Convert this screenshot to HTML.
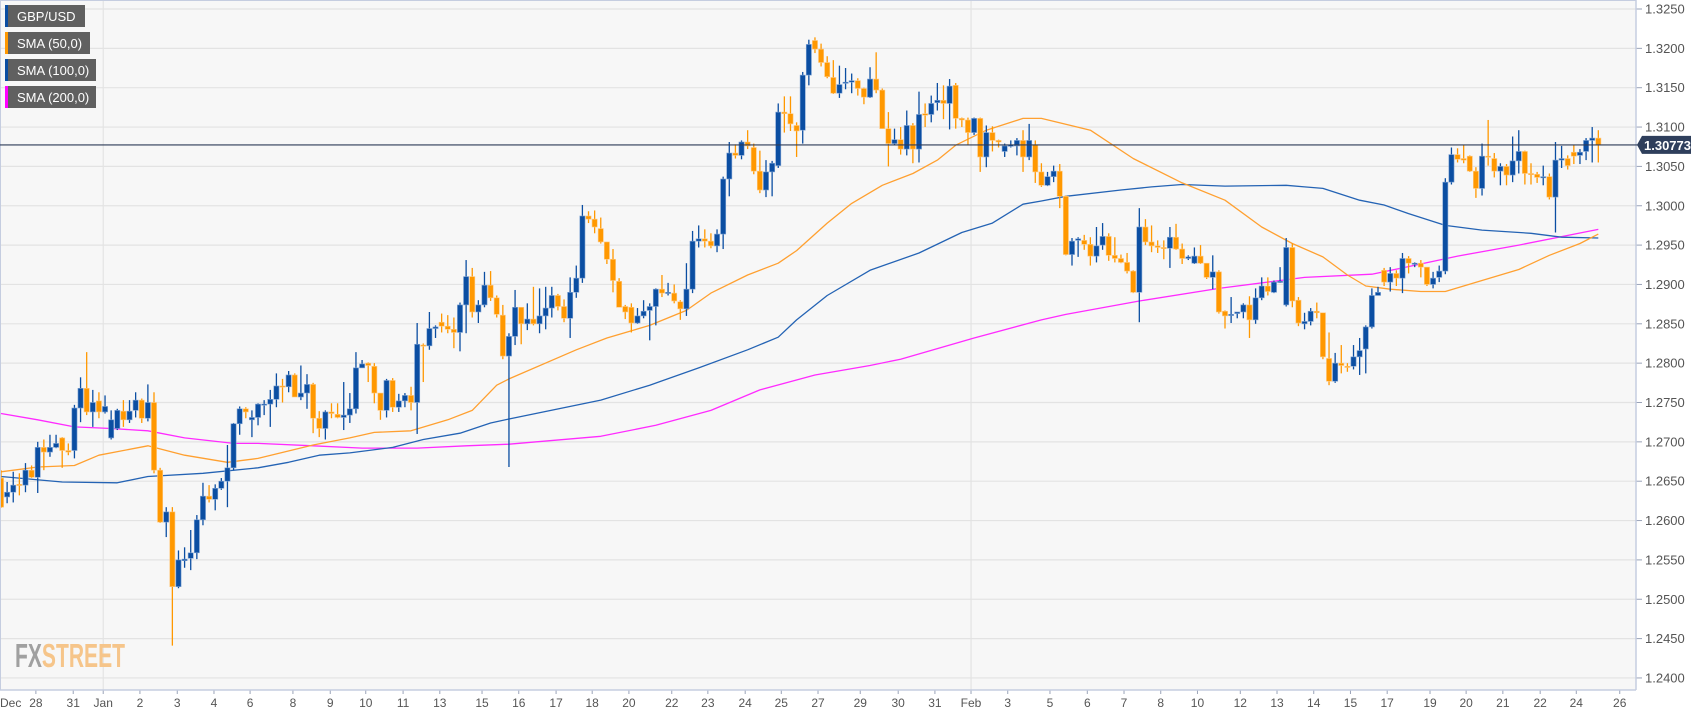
<!DOCTYPE html>
<html><head><meta charset="utf-8"><style>
html,body{margin:0;padding:0;background:#fff;}
svg{display:block;font-family:"Liberation Sans",Arial,sans-serif;}
</style></head><body>
<svg id="chart" width="1707" height="712" viewBox="0 0 1707 712" xmlns="http://www.w3.org/2000/svg">
  <rect x="0" y="0" width="1707" height="712" fill="#ffffff"/>
  <rect x="0" y="0" width="1636" height="690" fill="#f7f7f7"/>
  <g id="grid"></g>
  <g id="smas"></g>
  <g id="candles"></g>
  <g id="axes"></g>
  <g>
    <text x="15" y="667" font-size="33" font-weight="bold" fill="#a0a0a0" textLength="110" lengthAdjust="spacingAndGlyphs">FX<tspan fill="#f6c58a">STREET</tspan></text>
  </g>
  <g>
    <g>
      <rect x="5" y="5" width="80" height="22" fill="#606060"/><rect x="5" y="5" width="3" height="22" fill="#0b4ea2"/>
      <text x="17" y="21" font-size="13" fill="#fff">GBP/USD</text></g>
    <g>
      <rect x="5" y="32" width="85" height="22" fill="#606060"/><rect x="5" y="32" width="3" height="22" fill="#ff9800"/>
      <text x="17" y="48" font-size="13" fill="#fff">SMA (50,0)</text></g>
    <g>
      <rect x="5" y="59" width="91" height="22" fill="#606060"/><rect x="5" y="59" width="3" height="22" fill="#0b4ea2"/>
      <text x="17" y="75" font-size="13" fill="#fff">SMA (100,0)</text></g>
    <g>
      <rect x="5" y="86" width="91" height="22" fill="#606060"/><rect x="5" y="86" width="3" height="22" fill="#ff00ff"/>
      <text x="17" y="102" font-size="13" fill="#fff">SMA (200,0)</text></g>
  </g>
</svg>
<script>
const O=[1.2654,1.2630,1.2636,1.2646,1.2645,1.2664,1.2655,1.2693,1.2687,1.2693,
1.2705,1.2689,1.2689,1.2743,1.2768,1.2738,1.2752,1.2738,1.2705,1.2717,
1.2739,1.2728,1.2740,1.2753,1.2730,1.2750,1.2664,1.2598,1.2611,1.2516,
1.2549,1.2552,1.2559,1.2601,1.2631,1.2627,1.2641,1.2650,1.2667,1.2723,
1.2742,1.2728,1.2731,1.2747,1.2748,1.2754,1.2771,1.2770,1.2785,1.2757,
1.2762,1.2773,1.2730,1.2717,1.2738,1.2735,1.2731,1.2734,1.2742,1.2794,
1.2800,1.2796,1.2762,1.2740,1.2778,1.2744,1.2752,1.2759,1.2750,1.2823,
1.2822,1.2844,1.2852,1.2847,1.2843,1.2839,1.2874,1.2910,1.2865,1.2874,
1.2899,1.2883,1.2861,1.2809,1.2834,1.2871,1.2850,1.2856,1.2850,1.2860,
1.2870,1.2886,1.2872,1.2857,1.2890,1.2908,1.2987,1.2983,1.2971,1.2954,
1.2932,1.2904,1.2872,1.2871,1.2851,1.2860,1.2867,1.2872,1.2894,1.2889,
1.2889,1.2878,1.2869,1.2894,1.2955,1.2958,1.2955,1.2949,1.2964,1.3034,
1.3067,1.3064,1.3081,1.3074,1.3044,1.3020,1.3043,1.3051,1.3119,1.3117,
1.3102,1.3096,1.3166,1.3210,1.3199,1.3182,1.3163,1.3143,1.3156,1.3157,
1.3159,1.3149,1.3138,1.3161,1.3147,1.3098,1.3079,1.3084,1.3072,1.3102,
1.3072,1.3117,1.3116,1.3131,1.3134,1.3130,1.3153,1.3111,1.3109,1.3093,
1.3111,1.3062,1.3093,1.3083,1.3069,1.3076,1.3076,1.3083,1.3062,1.3077,
1.3043,1.3026,1.3037,1.3044,1.3012,1.2938,1.2956,1.2956,1.2951,1.2936,
1.2950,1.2961,1.2937,1.2933,1.2928,1.2917,1.2890,1.2973,1.2954,1.2949,
1.2947,1.2946,1.2960,1.2945,1.2933,1.2927,1.2936,1.2927,1.2909,1.2916,
1.2866,1.2861,1.2863,1.2865,1.2874,1.2855,1.2883,1.2898,1.2890,1.2903,
1.2874,1.2947,1.2880,1.2850,1.2853,1.2866,1.2864,1.2806,1.2777,1.2800,
1.2796,1.2796,1.2808,1.2818,1.2846,1.2886,1.2918,1.2903,1.2914,1.2908,
1.2933,1.2926,1.2927,1.2922,1.2900,1.2909,1.2917,1.3030,1.3065,1.3060,
1.3063,1.3044,1.3022,1.3063,1.3060,1.3044,1.3050,1.3039,1.3057,1.3069,
1.3041,1.3040,1.3036,1.3037,1.3011,1.3058,1.3060,1.3068,1.3064,1.3069,
1.3083,1.3086];
const H=[1.2664,1.2649,1.2662,1.2660,1.2673,1.2670,1.2700,1.2703,1.2709,1.2709,
1.2706,1.2698,1.2747,1.2782,1.2814,1.2766,1.2763,1.2759,1.2740,1.2742,
1.2753,1.2753,1.2763,1.2755,1.2773,1.2763,1.2667,1.2617,1.2617,1.2562,
1.2566,1.2588,1.2607,1.2648,1.2645,1.2646,1.2654,1.2696,1.2724,1.2745,
1.2744,1.2740,1.2749,1.2753,1.2766,1.2787,1.2780,1.2790,1.2787,1.2797,
1.2786,1.2775,1.2739,1.2740,1.2749,1.2749,1.2776,1.2762,1.2814,1.2804,
1.2801,1.2800,1.2762,1.2780,1.2781,1.2761,1.2762,1.2770,1.2851,1.2825,
1.2865,1.2848,1.2863,1.2861,1.2858,1.2877,1.2931,1.2921,1.2880,1.2916,
1.2917,1.2886,1.2874,1.2838,1.2893,1.2871,1.2876,1.2897,1.2895,1.2897,
1.2897,1.2888,1.2881,1.2909,1.2924,1.3001,1.2993,1.2994,1.2985,1.2954,
1.2945,1.2908,1.2874,1.2876,1.2870,1.2880,1.2876,1.2895,1.2912,1.2902,
1.2900,1.2880,1.2927,1.2968,1.2975,1.2970,1.2965,1.2970,1.3037,1.3081,
1.3078,1.3083,1.3096,1.3079,1.3070,1.3058,1.3057,1.3130,1.3139,1.3139,
1.3106,1.3170,1.3211,1.3214,1.3206,1.3190,1.3185,1.3178,1.3175,1.3168,
1.3162,1.3150,1.3176,1.3195,1.3149,1.3119,1.3098,1.3100,1.3121,1.3105,
1.3145,1.3130,1.3140,1.3156,1.3153,1.3161,1.3156,1.3112,1.3112,1.3112,
1.3112,1.3102,1.3101,1.3084,1.3079,1.3083,1.3086,1.3096,1.3104,1.3083,
1.3054,1.3043,1.3051,1.3053,1.3013,1.2959,1.2960,1.2963,1.2960,1.2973,
1.2978,1.2965,1.2960,1.2938,1.2940,1.2918,1.2997,1.2983,1.2975,1.2956,
1.2956,1.2973,1.2977,1.2952,1.2937,1.2947,1.2950,1.2927,1.2937,1.2918,
1.2867,1.2884,1.2865,1.2876,1.2885,1.2895,1.2909,1.2909,1.2905,1.2922,
1.2959,1.2952,1.2884,1.2864,1.2870,1.2877,1.2864,1.2839,1.2813,1.2823,
1.2800,1.2823,1.2832,1.2848,1.2895,1.2897,1.2921,1.2922,1.2918,1.2940,
1.2936,1.2928,1.2931,1.2922,1.2916,1.2924,1.3035,1.3074,1.3073,1.3077,
1.3064,1.3049,1.3079,1.3109,1.3067,1.3054,1.3053,1.3088,1.3096,1.3070,
1.3054,1.3043,1.3051,1.3041,1.3081,1.3076,1.3064,1.3077,1.3072,1.3086,
1.3100,1.3096];
const L=[1.2616,1.2622,1.2623,1.2632,1.2636,1.2654,1.2635,1.2664,1.2681,1.2692,
1.2667,1.2683,1.2679,1.2725,1.2734,1.2719,1.2730,1.2736,1.2703,1.2715,
1.2719,1.2724,1.2731,1.2724,1.2726,1.2660,1.2597,1.2579,1.2441,1.2514,
1.2540,1.2537,1.2551,1.2594,1.2623,1.2613,1.2639,1.2617,1.2664,1.2709,
1.2730,1.2706,1.2721,1.2734,1.2719,1.2744,1.2750,1.2763,1.2757,1.2753,
1.2742,1.2711,1.2706,1.2703,1.2730,1.2730,1.2715,1.2724,1.2736,1.2794,
1.2776,1.2749,1.2728,1.2731,1.2738,1.2738,1.2744,1.2740,1.2710,1.2776,
1.2817,1.2832,1.2839,1.2838,1.2819,1.2815,1.2838,1.2858,1.2851,1.2871,
1.2879,1.2858,1.2805,1.2668,1.2823,1.2824,1.2842,1.2848,1.2838,1.2843,
1.2858,1.2867,1.2852,1.2832,1.2883,1.2902,1.2978,1.2965,1.2952,1.2926,
1.2890,1.2871,1.2856,1.2839,1.2850,1.2857,1.2829,1.2848,1.2884,1.2886,
1.2876,1.2855,1.2860,1.2889,1.2947,1.2947,1.2946,1.2941,1.2945,1.3012,
1.3060,1.3059,1.3072,1.3040,1.3016,1.3011,1.3012,1.3048,1.3093,1.3095,
1.3062,1.3079,1.3153,1.3194,1.3177,1.3162,1.3142,1.3137,1.3148,1.3143,
1.3140,1.3129,1.3137,1.3143,1.3098,1.3050,1.3077,1.3065,1.3064,1.3054,
1.3055,1.3100,1.3106,1.3121,1.3110,1.3097,1.3098,1.3100,1.3077,1.3090,
1.3043,1.3049,1.3069,1.3074,1.3062,1.3074,1.3064,1.3043,1.3058,1.3029,
1.3024,1.3025,1.3030,1.2997,1.2937,1.2924,1.2935,1.2944,1.2924,1.2928,
1.2944,1.2930,1.2928,1.2927,1.2914,1.2889,1.2852,1.2950,1.2941,1.2940,
1.2932,1.2921,1.2944,1.2926,1.2931,1.2926,1.2926,1.2907,1.2894,1.2863,
1.2844,1.2851,1.2857,1.2857,1.2832,1.2850,1.2880,1.2886,1.2889,1.2902,
1.2872,1.2871,1.2847,1.2843,1.2848,1.2857,1.2805,1.2772,1.2775,1.2787,
1.2789,1.2792,1.2785,1.2787,1.2844,1.2886,1.2898,1.2891,1.2898,1.2889,
1.2914,1.2922,1.2909,1.2898,1.2895,1.2903,1.2913,1.3027,1.3055,1.3054,
1.3043,1.3010,1.3013,1.3051,1.3036,1.3026,1.3026,1.3030,1.3041,1.3027,
1.3027,1.3029,1.3026,1.3008,1.2966,1.3048,1.3046,1.3053,1.3053,1.3058,
1.3055,1.3055];
const C=[1.2617,1.2636,1.2645,1.2645,1.2664,1.2655,1.2693,1.2687,1.2693,1.2698,
1.2689,1.2687,1.2743,1.2768,1.2738,1.2750,1.2738,1.2745,1.2728,1.2740,
1.2728,1.2739,1.2753,1.2730,1.2750,1.2664,1.2598,1.2611,1.2516,1.2550,
1.2551,1.2559,1.2601,1.2631,1.2627,1.2641,1.2650,1.2667,1.2723,1.2742,
1.2738,1.2731,1.2748,1.2748,1.2754,1.2771,1.2770,1.2785,1.2757,1.2762,
1.2773,1.2730,1.2717,1.2738,1.2736,1.2731,1.2734,1.2742,1.2794,1.2799,
1.2797,1.2762,1.2740,1.2778,1.2744,1.2752,1.2759,1.2750,1.2824,1.2822,
1.2844,1.2846,1.2847,1.2843,1.2839,1.2874,1.2910,1.2865,1.2874,1.2899,
1.2883,1.2862,1.2809,1.2834,1.2871,1.2850,1.2856,1.2850,1.2860,1.2870,
1.2886,1.2872,1.2857,1.2890,1.2908,1.2987,1.2983,1.2973,1.2954,1.2932,
1.2905,1.2871,1.2865,1.2851,1.2860,1.2866,1.2872,1.2894,1.2889,1.2890,
1.2879,1.2869,1.2894,1.2955,1.2958,1.2955,1.2949,1.2964,1.3034,1.3067,
1.3064,1.3081,1.3076,1.3044,1.3020,1.3043,1.3054,1.3119,1.3117,1.3104,
1.3095,1.3166,1.3205,1.3199,1.3182,1.3164,1.3143,1.3154,1.3157,1.3159,
1.3149,1.3138,1.3161,1.3147,1.3098,1.3079,1.3084,1.3072,1.3102,1.3072,
1.3116,1.3115,1.3130,1.3134,1.3130,1.3152,1.3111,1.3109,1.3093,1.3111,
1.3062,1.3093,1.3083,1.3081,1.3076,1.3077,1.3083,1.3062,1.3083,1.3043,
1.3026,1.3037,1.3044,1.3012,1.2938,1.2955,1.2958,1.2951,1.2936,1.2949,
1.2961,1.2937,1.2933,1.2928,1.2917,1.2890,1.2973,1.2954,1.2949,1.2947,
1.2946,1.2960,1.2945,1.2933,1.2935,1.2936,1.2927,1.2909,1.2916,1.2865,
1.2860,1.2862,1.2865,1.2874,1.2855,1.2883,1.2898,1.2891,1.2903,1.2904,
1.2947,1.2879,1.2851,1.2853,1.2866,1.2864,1.2808,1.2777,1.2800,1.2797,
1.2795,1.2808,1.2816,1.2846,1.2886,1.2890,1.2903,1.2914,1.2908,1.2933,
1.2927,1.2927,1.2922,1.2900,1.2908,1.2917,1.3030,1.3065,1.3059,1.3058,
1.3044,1.3022,1.3063,1.3062,1.3044,1.3050,1.3039,1.3057,1.3069,1.3041,
1.3040,1.3036,1.3037,1.3011,1.3058,1.3060,1.3051,1.3063,1.3068,1.3083,
1.3086,1.30773];

const sma50Idx=[0,6,12,16,24,30,37,42,51,57,61,67,73,77,81,83,94,99,106,112,116,122,127,130,135,139,144,149,153,156,161,167,170,178,185,193,200,206,211,216,220,223,227,232,236,242,248,253,258,261];
const sma50Val=[1.2662,1.2668,1.2670,1.2683,1.2695,1.2683,1.2674,1.2679,1.2696,1.2705,1.2712,1.2714,1.2728,1.2740,1.2772,1.2780,1.2817,1.2832,1.2848,1.2867,1.2889,1.2912,1.2927,1.2943,1.2978,1.3003,1.3026,1.3041,1.3058,1.3077,1.3096,1.3111,1.3111,1.3096,1.3060,1.3029,1.3007,1.2973,1.2952,1.2935,1.2912,1.2898,1.2894,1.2891,1.2891,1.2905,1.2919,1.2937,1.2952,1.2964];
const sma100Idx=[0,10,19,24,33,42,47,52,57,64,69,75,80,83,98,106,114,122,127,130,135,142,150,157,162,167,170,174,183,188,193,200,210,213,216,222,226,230,236,242,250,255,261];
const sma100Val=[1.2656,1.2649,1.2648,1.2656,1.2660,1.2667,1.2674,1.2683,1.2686,1.2693,1.2703,1.2711,1.2724,1.2729,1.2753,1.2772,1.2794,1.2817,1.2833,1.2855,1.2886,1.2918,1.2940,1.2966,1.2978,1.3002,1.3006,1.3012,1.3020,1.3024,1.3027,1.3025,1.3026,1.3024,1.3022,1.3007,1.3001,1.2990,1.2975,1.2969,1.2965,1.2960,1.2959];
const sma200Idx=[0,6,12,18,24,30,38,42,51,59,68,76,83,98,107,116,124,133,142,147,159,170,174,186,199,213,224,229,238,248,261];
const sma200Val=[1.2736,1.2728,1.2719,1.2717,1.2714,1.2705,1.2698,1.2698,1.2695,1.2692,1.2692,1.2695,1.2697,1.2707,1.2721,1.2740,1.2766,1.2785,1.2797,1.2805,1.2832,1.2855,1.2862,1.2879,1.2895,1.2909,1.2913,1.2921,1.2936,1.2950,1.2970];

const priceTicks=[1.3250,1.3200,1.3150,1.3100,1.3050,1.3000,1.2950,1.2900,1.2850,1.2800,1.2750,1.2700,1.2650,1.2600,1.2550,1.2500,1.2450,1.2400];
const dateLabels=["Dec","28","31","Jan","2","3","4","6","8","9","10","11","13","15","16","17","18","20","22","23","24","25","27","29","30","31","Feb","3","5","6","7","8","10","12","13","14","15","17","19","20","21","22","24","26"];
const dateIdx=[1.5,5.7,11.8,16.7,22.7,28.8,34.8,40.7,47.7,53.8,59.6,65.7,71.7,78.6,84.6,90.7,96.6,102.6,109.6,115.5,121.6,127.5,133.5,140.4,146.6,152.6,158.5,164.5,171.4,177.5,183.5,189.5,195.5,202.5,208.5,214.5,220.5,226.5,233.5,239.4,245.4,251.5,257.4,264.5];
const gridDates=["Jan","Feb"];
const lastPrice=1.30773;

const NS="http://www.w3.org/2000/svg";
function yS(p){return 9+(1.3250-p)/0.005*39.35;}
function xS(i){return 1+i*6.12;}
function mk(tag,attrs,parent){const e=document.createElementNS(NS,tag);for(const k in attrs)e.setAttribute(k,attrs[k]);parent.appendChild(e);return e;}

const grid=document.getElementById('grid');
const axes=document.getElementById('axes');
priceTicks.forEach(p=>{
  const y=yS(p);
  const gl=mk('line',{x1:0,x2:1636,y1:y,y2:y,stroke:'#e3e3e3','stroke-width':1.2},grid);
  
  
  const tk=mk('line',{x1:1636,x2:1642,y1:y,y2:y,stroke:'#9aa3b8','stroke-width':1},axes);
  
  
  const t=mk('text',{x:1645,y:y+4.5,'font-size':13,fill:'#555'},axes);
  t.textContent=p.toFixed(4);
  
  
});
dateLabels.forEach((d,k)=>{
  const x=xS(dateIdx[k]);
  if(gridDates.indexOf(d)>=0){
    const vg=mk('line',{x1:x,x2:x,y1:0,y2:690,stroke:'#e3e3e3','stroke-width':1.2},grid);
    
    
  }
  if(k>0){
    const tk=mk('line',{x1:x,x2:x,y1:690,y2:694,stroke:'#9aa3b8','stroke-width':1},axes);
    
    
  }
  const t=mk('text',{x:k===0?0:x,y:707,'font-size':12,fill:'#555','text-anchor':k===0?'start':'middle'},axes);
  t.textContent=d;
  
  
});
const b1=mk('line',{x1:1636,x2:1636,y1:0,y2:690,stroke:'#c5cde0','stroke-width':1.5},axes);


const b2=mk('line',{x1:0,x2:1636,y1:690,y2:690,stroke:'#c5cde0','stroke-width':1.5},axes);


const b3=mk('line',{x1:0,x2:1636,y1:0.5,y2:0.5,stroke:'#c5cde0','stroke-width':1},axes);


const b4=mk('line',{x1:0.5,x2:0.5,y1:0,y2:690,stroke:'#c5cde0','stroke-width':1},axes);



const smaG=document.getElementById('smas');
function drawSma(idx,val,color,name){
  const pts=idx.map((i,k)=>xS(i).toFixed(1)+','+yS(val[k]).toFixed(1)).join(' ');
  const pl=mk('polyline',{points:pts,fill:'none',stroke:color,'stroke-width':1.3,'stroke-linejoin':'round'},smaG);
  
  
}
drawSma(sma200Idx,sma200Val,'#ff2bff','sma-200-line');
drawSma(sma100Idx,sma100Val,'#2463b4','sma-100-line');
drawSma(sma50Idx,sma50Val,'#ffa030','sma-50-line');

const cg=document.getElementById('candles');
for(let i=0;i<C.length;i++){
  const up=C[i]>=O[i];
  const col=up?'#0b4ea2':'#ff9800';
  const x=xS(i);
  const g=mk('g',{},cg);
  
  
  mk('line',{x1:x,x2:x,y1:yS(H[i]),y2:yS(L[i]),stroke:col,'stroke-width':1.3},g);
  const top=yS(Math.max(O[i],C[i])),bot=yS(Math.min(O[i],C[i]));
  mk('rect',{x:x-2.6,y:top,width:5.2,height:Math.max(1.2,bot-top),fill:col,stroke:up?'#7fa3d3':'#ffc980','stroke-width':0.6},g);
}

const ly=yS(lastPrice);
const ll=mk('line',{x1:0,x2:1640,y1:ly,y2:ly,stroke:'#2c3b57','stroke-width':1.2},axes);


const lb=mk('path',{d:`M1637 ${ly} L1642 ${ly-9} L1691 ${ly-9} L1691 ${ly+9} L1642 ${ly+9} Z`,fill:'#2f3f5c'},axes);


const lt=mk('text',{x:1644,y:ly+5,'font-size':13,'font-weight':'bold',fill:'#fff'},axes);
lt.textContent=lastPrice.toFixed(5);


</script>
</body></html>
